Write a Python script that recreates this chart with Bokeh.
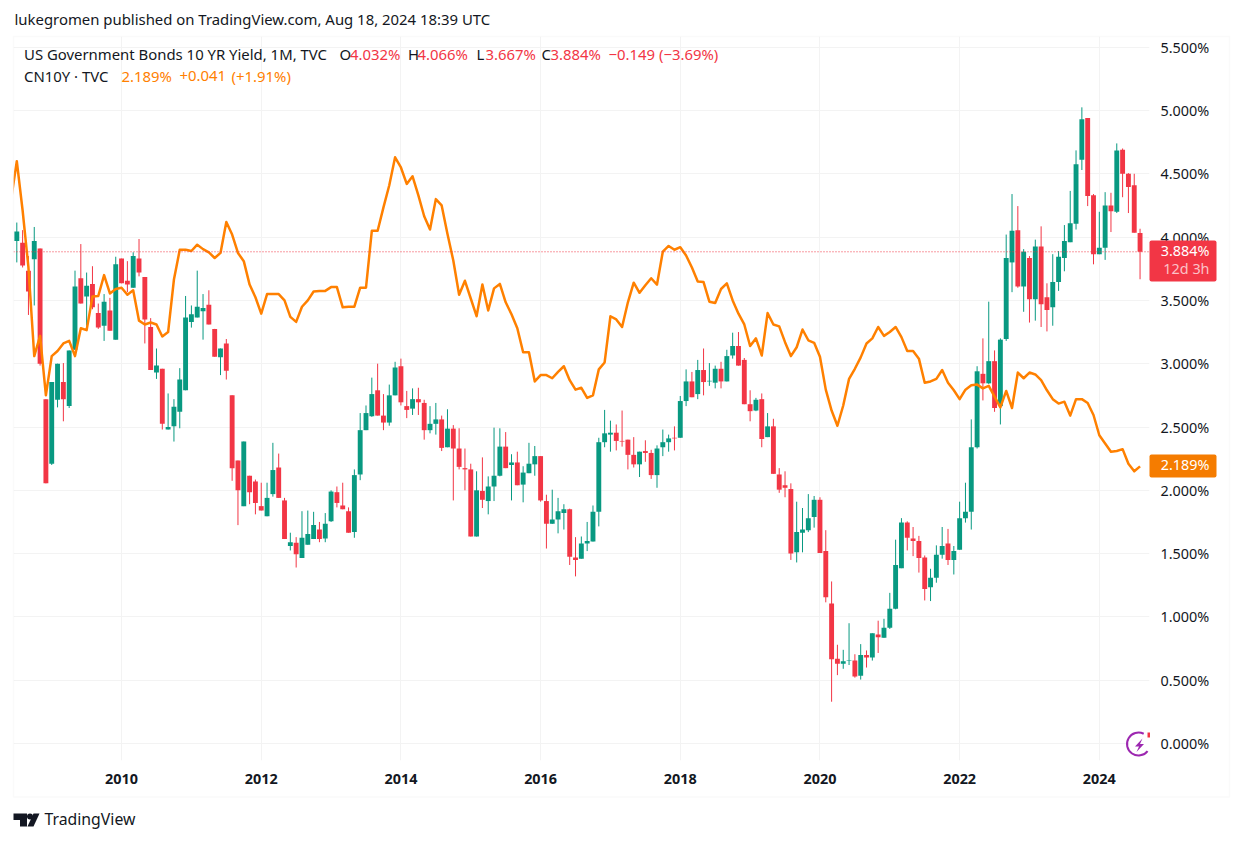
from bokeh.plotting import figure
from bokeh.models import Range1d, FixedTicker, PrintfTickFormatter, Label, BoxAnnotation, Span
from bokeh.models import Column
from bokeh.embed import file_html
from bokeh.resources import INLINE

# Monthly candles, Jul 2008 - Aug 2024 (percent)
us_open = [3.97,3.955,3.735,3.825,3.91,2.72,2.21,2.715,2.855,2.665,
 3.11,3.675,3.53,3.63,3.40,3.30,3.42,3.19,3.83,3.655,
 3.60,3.83,3.685,3.29,2.93,2.96,2.48,2.505,2.62,2.79,
 3.33,3.365,3.415,3.465,3.275,3.05,3.16,2.75,2.235,1.875,
 2.115,2.07,1.875,1.795,1.97,2.18,1.92,1.56,1.585,1.465,
 1.57,1.615,1.69,1.62,1.755,1.985,1.88,1.835,1.67,2.125,
 2.475,2.585,2.79,2.59,2.535,2.75,2.98,2.665,2.645,2.72,
 2.69,2.475,2.525,2.56,2.34,2.487,2.33,2.175,2.165,1.635,
 1.995,1.915,2.03,2.115,2.345,2.2,2.22,2.045,2.135,2.205,
 2.27,1.915,1.735,1.77,1.82,1.85,1.47,1.46,1.58,1.595,
 1.83,2.38,2.44,2.455,2.39,2.40,2.28,2.205,2.31,2.295,
 2.12,2.34,2.38,2.415,2.415,2.705,2.86,2.76,2.95,2.86,
 2.85,2.96,2.86,3.065,3.14,3.03,2.68,2.63,2.72,2.42,
 2.505,2.125,2.04,2.01,1.51,1.665,1.685,1.79,1.925,1.52,
 1.105,0.67,0.63,0.655,0.655,0.535,0.70,0.68,0.86,0.835,
 0.915,1.065,1.385,1.745,1.62,1.60,1.47,1.235,1.31,1.49,
 1.58,1.45,1.53,1.78,1.83,2.34,2.92,2.845,3.02,2.665,
 3.195,3.80,4.055,3.61,3.835,3.51,3.925,3.525,3.445,3.645,
 3.835,3.96,4.105,4.61,4.94,4.33,3.865,3.915,4.25,4.20,
 4.69,4.50,4.41,4.032]
us_high = [4.115,4.055,3.85,4.08,3.91,2.72,2.855,3.0,3.005,3.105,
 3.735,3.945,3.72,3.77,3.475,3.55,3.52,3.845,3.83,3.81,
 3.88,3.985,3.685,3.36,3.12,2.96,2.765,2.72,2.965,3.535,
 3.46,3.735,3.55,3.58,3.275,3.12,3.195,2.75,2.235,2.385,
 2.115,2.085,2.06,2.06,2.375,2.29,1.94,1.665,1.63,1.835,
 1.84,1.83,1.75,1.82,2.0,2.03,2.06,1.865,2.165,2.61,
 2.67,2.89,3.0,2.76,2.835,3.015,3.04,2.785,2.805,2.81,
 2.715,2.665,2.69,2.59,2.64,2.515,2.49,2.33,2.21,2.15,
 2.26,2.11,2.495,2.49,2.46,2.285,2.305,2.19,2.375,2.35,
 2.27,1.965,2.005,1.94,1.89,1.855,1.63,1.635,1.75,1.88,
 2.415,2.635,2.55,2.52,2.63,2.40,2.42,2.305,2.395,2.32,
 2.355,2.48,2.44,2.505,2.745,2.955,2.935,3.03,3.12,3.005,
 2.985,3.015,3.11,3.245,3.25,3.045,2.79,2.73,2.765,2.61,
 2.565,2.175,2.15,2.055,1.91,1.86,1.97,1.955,1.945,1.685,
 1.28,0.78,0.74,0.95,0.705,0.785,0.735,0.87,0.97,0.985,
 1.19,1.61,1.78,1.755,1.71,1.64,1.485,1.38,1.565,1.71,
 1.695,1.56,1.91,2.06,2.56,2.98,3.2,3.49,3.105,3.2,
 4.02,4.34,4.245,3.905,3.85,3.98,4.085,3.635,3.865,3.89,
 4.095,4.365,4.685,5.025,4.94,4.34,4.2,4.355,4.35,4.74,
 4.70,4.505,4.5,4.066]
us_low = [3.80,3.76,3.385,3.46,2.985,2.055,2.20,2.655,2.545,2.65,
 3.11,3.475,3.30,3.43,3.275,3.18,3.26,3.19,3.635,3.565,
 3.60,3.69,3.16,2.95,2.88,2.48,2.48,2.385,2.49,2.79,
 3.285,3.365,3.19,3.31,3.055,2.91,2.875,2.075,1.725,1.875,
 1.89,1.81,1.84,1.795,1.95,1.94,1.615,1.525,1.39,1.465,
 1.57,1.615,1.59,1.59,1.75,1.865,1.85,1.665,1.625,2.08,
 2.475,2.58,2.59,2.475,2.51,2.75,2.67,2.57,2.595,2.595,
 2.40,2.45,2.44,2.31,2.34,1.92,2.165,2.0,1.635,1.635,
 1.86,1.81,1.915,2.11,2.175,1.92,2.04,1.905,2.135,2.115,
 1.91,1.54,1.735,1.66,1.69,1.41,1.32,1.46,1.52,1.595,
 1.715,2.34,2.305,2.315,2.345,2.165,2.18,2.105,2.225,2.09,
 2.02,2.27,2.305,2.315,2.415,2.665,2.735,2.72,2.75,2.825,
 2.805,2.805,2.86,3.04,2.985,2.68,2.545,2.625,2.34,2.42,
 2.13,1.98,1.945,1.45,1.43,1.51,1.67,1.705,1.505,1.115,
 0.33,0.54,0.59,0.62,0.52,0.505,0.60,0.655,0.715,0.835,
 0.905,1.06,1.385,1.525,1.48,1.35,1.13,1.125,1.27,1.46,
 1.41,1.335,1.53,1.745,1.69,2.33,2.71,2.84,2.62,2.52,
 3.18,3.565,3.60,3.41,3.325,3.34,3.29,3.255,3.30,3.575,
 3.73,3.96,4.06,4.53,4.245,3.785,3.865,3.82,4.04,4.19,
 4.315,4.19,4.035,3.667]
us_close = [4.045,3.775,3.57,3.97,3.0,2.055,2.855,3.0,2.72,3.105,
 3.61,3.475,3.615,3.445,3.285,3.49,3.26,3.785,3.635,3.625,
 3.85,3.72,3.35,2.95,2.985,2.525,2.50,2.66,2.875,3.365,
 3.39,3.45,3.44,3.31,3.055,3.12,2.945,2.175,2.0,2.385,
 1.985,1.90,1.84,1.94,2.16,1.94,1.615,1.59,1.495,1.625,
 1.655,1.725,1.615,1.735,1.99,1.90,1.85,1.665,2.12,2.475,
 2.61,2.76,2.59,2.535,2.75,2.97,2.695,2.635,2.72,2.695,
 2.475,2.525,2.56,2.335,2.487,2.33,2.185,2.165,1.635,2.0,
 1.925,2.03,2.115,2.345,2.175,2.22,2.04,2.14,2.21,2.27,
 1.92,1.735,1.77,1.835,1.85,1.475,1.45,1.58,1.60,1.83,
 2.38,2.45,2.455,2.39,2.385,2.28,2.205,2.305,2.295,2.12,
 2.33,2.38,2.41,2.41,2.705,2.86,2.735,2.95,2.855,2.865,
 2.96,2.86,3.06,3.14,2.985,2.68,2.625,2.715,2.405,2.505,
 2.13,2.005,2.02,1.50,1.67,1.69,1.78,1.925,1.505,1.155,
 0.665,0.63,0.65,0.66,0.53,0.70,0.68,0.87,0.84,0.915,
 1.065,1.41,1.745,1.625,1.60,1.465,1.22,1.31,1.49,1.56,
 1.45,1.52,1.78,1.83,2.34,2.94,2.845,3.02,2.65,3.19,
 3.835,4.05,3.61,3.885,3.51,3.925,3.47,3.425,3.645,3.845,
 3.97,4.11,4.575,4.93,4.325,3.865,3.915,4.25,4.205,4.685,
 4.50,4.395,4.035,3.884]

# Jun 2008 - Aug 2024
cn10y = [4.29,4.60,4.21,3.76,3.06,3.22,2.75,3.06,3.10,3.16,3.18,
 3.06,3.28,3.265,3.53,3.535,3.70,3.555,3.59,3.60,3.545,
 3.58,3.34,3.31,3.325,3.31,3.215,3.25,3.665,3.90,3.90,
 3.89,3.94,3.905,3.88,3.835,3.875,4.12,4.02,3.875,3.81,
 3.625,3.525,3.395,3.55,3.55,3.55,3.50,3.37,3.33,3.45,
 3.50,3.57,3.575,3.575,3.605,3.605,3.445,3.45,3.45,3.60,
 3.60,4.05,4.05,4.235,4.41,4.63,4.55,4.42,4.48,4.33,
 4.165,4.06,4.30,4.25,4.025,3.815,3.545,3.655,3.515,3.375,
 3.625,3.42,3.595,3.63,3.485,3.39,3.28,3.09,3.09,2.86,
 2.91,2.91,2.885,2.935,2.98,2.87,2.795,2.81,2.73,2.75,
 2.955,3.01,3.375,3.35,3.29,3.485,3.64,3.56,3.62,3.675,
 3.625,3.885,3.93,3.90,3.92,3.855,3.76,3.65,3.645,3.49,
 3.48,3.59,3.635,3.50,3.395,3.31,3.14,3.20,3.065,3.40,
 3.31,3.295,3.17,3.06,3.13,3.27,3.185,3.165,3.055,2.795,
 2.63,2.51,2.67,2.88,2.96,3.05,3.16,3.20,3.29,3.22,
 3.25,3.29,3.21,3.10,3.10,3.04,2.85,2.86,2.88,2.95,
 2.85,2.79,2.72,2.795,2.83,2.835,2.805,2.825,2.74,2.655,
 2.785,2.65,2.93,2.885,2.93,2.915,2.87,2.79,2.72,2.685,
 2.70,2.59,2.72,2.72,2.69,2.595,2.435,2.37,2.305,2.31,
 2.325,2.21,2.15,2.189]

year_labels = ["2010","2012","2014","2016","2018","2020","2022","2024"]
year_positions = [18,42,66,90,114,138,162,186]
price_ticks = [0,0.5,1,1.5,2,2.5,3,3.5,4,4.5,5,5.5]

RED = "#F23645"; GREEN = "#089981"; ORANGE = "#FF8000"; LABEL_ORANGE = "#F57C00"
TEXT = "#131722"; GRID = "#F3F3F3"; BORDER = "#EFEFEF"; PURPLE = "#9C27B0"
FONT = "Noto Sans"
W, H = 1235, 835

def X(px): return (px - 16.3) / 5.82
def Y(py): return (743.0 - py) / 126.6

p = figure(width=W, height=H, output_backend="svg", toolbar_location=None,
           x_range=Range1d(X(13), X(1149)), y_range=Range1d(Y(760), Y(36)),
           y_axis_location="right", min_border_left=13, min_border_top=36,
           min_border_right=W-1149, min_border_bottom=H-760, outline_line_color=None,
           background_fill_color="white", border_fill_color="white")

p.xaxis.ticker = FixedTicker(ticks=year_positions)
p.xaxis.major_label_overrides = dict(zip(year_positions, year_labels))
p.yaxis.ticker = FixedTicker(ticks=price_ticks)
p.yaxis.formatter = PrintfTickFormatter(format="%.3f%%")
for ax in (p.xaxis[0], p.yaxis[0]):
    ax.axis_line_color = None
    ax.major_tick_line_color = None
    ax.minor_tick_line_color = None
    ax.major_label_text_font = FONT
    ax.major_label_text_font_size = "14.4px"
    ax.major_label_text_color = TEXT
p.xaxis.major_label_text_font_style = "bold"
p.xaxis.major_label_standoff = 7
p.yaxis.major_label_standoff = 5
p.xgrid.grid_line_color = GRID
p.ygrid.grid_line_color = GRID

n = list(range(len(us_open)))
up = [i for i in n if us_close[i] >= us_open[i]]
dn = [i for i in n if us_close[i] < us_open[i]]

p.add_layout(Span(location=us_close[-1], dimension="width", line_color=RED, line_width=1, line_dash="1 2"))

for idx, col in ((up, GREEN), (dn, RED)):
    p.segment(idx, [us_low[i] for i in idx], idx, [us_high[i] for i in idx], line_color=col, line_width=1)
    p.vbar(x=idx, width=0.84, bottom=[min(us_open[i], us_close[i]) for i in idx],
           top=[max(us_open[i], us_close[i]) for i in idx], fill_color=col, line_color=None)

p.line(list(range(-1, len(us_open))), cn10y, line_color=ORANGE, line_width=2.5, line_join="round")

# Transparent layer in page pixels for everything that sits outside the plotting frame
o = figure(width=W, height=H, output_backend="svg", toolbar_location=None,
           x_range=Range1d(0, W), y_range=Range1d(0, H), x_axis_location=None, y_axis_location=None,
           min_border=0, outline_line_color=None, background_fill_color=None, border_fill_color=None)
o.grid.visible = False

def YP(py): return H - py

o.add_layout(BoxAnnotation(left=13, right=1229, top=YP(36), bottom=YP(796.5), fill_alpha=0,
                           line_color=BORDER, line_width=1.5))

def text(px, py, s, color=TEXT, size="14.9px", align="left", style="normal"):
    o.add_layout(Label(x=px, y=YP(py - 1.7), text=s, text_color=color, text_font=FONT, text_font_size=size,
                       text_align=align, text_baseline="middle", text_font_style=style))

text(14, 20, "lukegromen published on TradingView.com, Aug 18, 2024 18:39 UTC")
text(23.5, 55, "US Government Bonds 10 YR Yield, 1M, TVC")
for px, s, c in [(339, "O", TEXT), (349.5, "4.032%", RED), (407.5, "H", TEXT), (417, "4.066%", RED),
                 (476, "L", TEXT), (485, "3.667%", RED), (541, "C", TEXT), (550, "3.884%", RED),
                 (608, "\u22120.149 (\u22123.69%)", RED)]:
    text(px, 55, s, c)
text(23.5, 77, "CN10Y \u00b7 TVC")
for px, s in [(121, "2.189%"), (179, "+0.041"), (231, "(+1.91%)")]:
    text(px, 77, s, ORANGE)

# Last-price tags
o.add_layout(BoxAnnotation(left=1149, right=1216, top=YP(240), bottom=YP(281), fill_color=RED,
                           fill_alpha=1, line_color=None, border_radius=2))
text(1209, 252, "3.884%", "white", size="14.4px", align="right")
text(1209, 270, "12d 3h", "#FBC2C7", size="14.4px", align="right")
o.add_layout(BoxAnnotation(left=1149, right=1216, top=YP(454), bottom=YP(477), fill_color=LABEL_ORANGE,
                           fill_alpha=1, line_color=None, border_radius=2))
text(1209, 466, "2.189%", "white", size="14.4px", align="right")

# Lightning badge
o.circle([1138], [YP(743.5)], radius=12.5, radius_units="screen", fill_color="white", line_color=None)
o.arc([1138], [YP(743.5)], radius=11.5, radius_units="screen", start_angle=1.1, end_angle=-0.66,
      direction="anticlock", line_color=PURPLE, line_width=2)
o.patch([1142,1134.5,1138.5,1136,1143.5,1139.5], [YP(v) for v in (738,746,746,751.5,743.5,743.5)],
        fill_color=PURPLE, line_color=None)
o.quad(left=[1147], right=[1149.5], top=[YP(732)], bottom=[YP(737)], fill_color=RED, line_color=None)

# TradingView logo
o.patch([13,26.5,26.5,19.5,19.5,13], [YP(v) for v in (813,813,826,826,819.5,819.5)], fill_color=TEXT, line_color=None)
o.patch([33,39,33,27], [YP(v) for v in (813,813,826,826)], fill_color=TEXT, line_color=None)
o.circle([29.5], [YP(816)], radius=3, radius_units="screen", fill_color=TEXT, line_color=None)
text(44, 820.5, "TradingView", size="15.8px")

overlay = Column(children=[o], margin=(-H, 0, 0, 0))
open("out.html", "w").write(file_html(Column(children=[p, overlay], spacing=0), INLINE))
